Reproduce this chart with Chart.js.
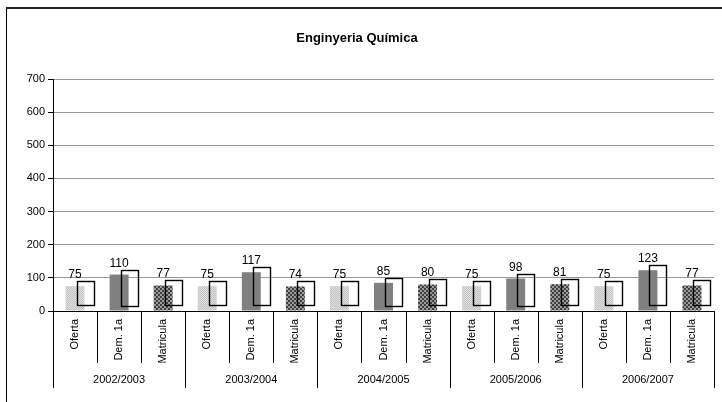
<!DOCTYPE html>
<html>
<head>
<meta charset="utf-8">
<script src="https://cdn.jsdelivr.net/npm/chart.js@4.4.0/dist/chart.umd.min.js"></script>
<style>
  body { margin: 0; background: #fff; }
  canvas { display: block; }
</style>
</head>
<body>
<canvas id="chart" width="722" height="402"></canvas>
<script>
const years = ["2002/2003", "2003/2004", "2004/2005", "2005/2006", "2006/2007"];
const kinds = ["Oferta", "Dem. 1a", "Matricula"];
const oferta = [75, 75, 75, 75, 75];
const demanda = [110, 117, 85, 98, 123];
const matricula = [77, 74, 80, 81, 77];
const yTicks = [0, 100, 200, 300, 400, 500, 600, 700];

// flatten: one bar per (year, kind)
const labels = [];
const values = [];
years.forEach((y, i) => {
  labels.push(kinds[0], kinds[1], kinds[2]);
  values.push(oferta[i], demanda[i], matricula[i]);
});

function makePattern(draw, size) {
  const c = document.createElement("canvas");
  c.width = size; c.height = size;
  draw(c.getContext("2d"));
  return document.getElementById("chart").getContext("2d").createPattern(c, "repeat");
}

// light dotted fill for Oferta
const dotted = makePattern(function (g) {
  g.fillStyle = "#e2e2e2"; g.fillRect(0, 0, 2, 2);
  g.fillStyle = "#c0c0c0"; g.fillRect(0, 0, 1, 1); g.fillRect(1, 1, 1, 1);
}, 2);
// dark checker fill for Matricula
const checker = makePattern(function (g) {
  g.fillStyle = "#9a9a9a"; g.fillRect(0, 0, 4, 4);
  g.fillStyle = "#404040"; g.fillRect(0, 0, 2, 2); g.fillRect(2, 2, 2, 2);
}, 4);
const kindFill = [dotted, "#808080", checker];

const framePlugin = {
  id: "frame",
  beforeDraw(chart) {
    const ctx = chart.ctx;
    ctx.save();
    ctx.fillStyle = "#fff";
    ctx.fillRect(0, 0, chart.width, chart.height);
    ctx.strokeStyle = "#000";
    ctx.lineWidth = 1;
    ctx.strokeRect(6.5, 7.5, chart.width, chart.height);
    ctx.fillStyle = "#222";
    ctx.fillRect(6, 7, chart.width, 2);
    ctx.restore();
  }
};

// offset outline boxes and value labels on top of the bars
const barExtras = {
  id: "barExtras",
  afterDatasetsDraw(chart) {
    const ctx = chart.ctx;
    const meta = chart.getDatasetMeta(0);
    ctx.save();
    meta.data.forEach((bar, i) => {
      const w = bar.width;
      const left = bar.x - w / 2;
      ctx.strokeStyle = "#000";
      ctx.lineWidth = 1.4;
      ctx.strokeRect(Math.round(left + 11) + 0.5, Math.round(bar.y - 5) + 0.5, Math.round(w * 0.92), Math.round(bar.base - bar.y));
      ctx.fillStyle = "#000";
      ctx.font = "12px 'Liberation Sans', Arial, sans-serif";
      ctx.textAlign = "center";
      ctx.textBaseline = "alphabetic";
      ctx.fillText(String(values[i]), bar.x, bar.y - 8);
    });
    ctx.restore();
  }
};

// category separators and the year group row
const groupAxis = {
  id: "groupAxis",
  afterDraw(chart) {
    const ctx = chart.ctx;
    const xs = chart.scales.x;
    const catW = (xs.right - xs.left) / labels.length;
    const top = xs.top;
    ctx.save();
    ctx.strokeStyle = "#000";
    ctx.lineWidth = 1;
    for (let i = 0; i <= labels.length; i++) {
      const x = Math.round(xs.left + i * catW) + 0.5;
      const end = i % kinds.length === 0 ? top + 77 : top + 52;
      ctx.beginPath();
      ctx.moveTo(x, top);
      ctx.lineTo(x, end);
      ctx.stroke();
    }
    ctx.fillStyle = "#000";
    ctx.font = "11px 'Liberation Sans', Arial, sans-serif";
    ctx.textAlign = "center";
    ctx.textBaseline = "middle";
    years.forEach((y, g) => {
      const cx = xs.left + (g + 0.5) * kinds.length * catW;
      ctx.fillText(y, cx, top + 69);
    });
    ctx.restore();
  }
};

new Chart(document.getElementById("chart"), {
  type: "bar",
  data: {
    labels: labels,
    datasets: [{
      data: values,
      backgroundColor: labels.map((l, i) => kindFill[i % kinds.length]),
      borderWidth: 0,
      barPercentage: 0.43,
      categoryPercentage: 1
    }]
  },
  options: {
    responsive: false,
    devicePixelRatio: 1,
    animation: false,
    layout: { padding: { left: 0, right: 8, top: 0, bottom: 0 } },
    plugins: {
      legend: { display: false },
      tooltip: { enabled: false },
      title: {
        display: true,
        text: "Enginyeria Química",
        color: "#000",
        font: { family: "'Liberation Sans', Arial, sans-serif", size: 13, weight: "bold" },
        padding: { top: 31, bottom: 32.4 }
      }
    },
    scales: {
      x: {
        ticks: {
          autoSkip: false,
          minRotation: 90,
          maxRotation: 90,
          padding: 8,
          color: "#000",
          font: { family: "'Liberation Sans', Arial, sans-serif", size: 11 }
        },
        grid: { display: true, drawOnChartArea: false, drawTicks: false, color: "transparent" },
        border: { display: true, color: "#000", width: 1 },
        afterFit(scale) { scale.height = 91; }
      },
      y: {
        min: yTicks[0],
        max: yTicks[yTicks.length - 1],
        afterBuildTicks(scale) { scale.ticks = yTicks.map(v => ({ value: v })); },
        ticks: {
          padding: 3,
          color: "#000",
          font: { family: "'Liberation Sans', Arial, sans-serif", size: 11 }
        },
        grid: { color: "#999", tickColor: "#000", tickLength: 5 },
        border: { display: true, color: "#000", width: 1 },
        afterFit(scale) { scale.width = 53; }
      }
    }
  },
  plugins: [framePlugin, barExtras, groupAxis]
});
</script>
</body>
</html>
